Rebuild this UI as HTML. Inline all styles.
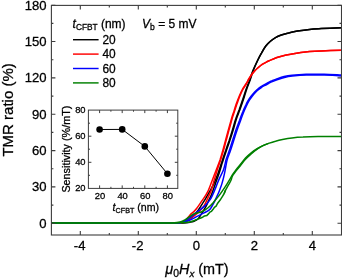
<!DOCTYPE html>
<html><head><meta charset="utf-8"><title>TMR ratio</title>
<style>
html,body{margin:0;padding:0;background:#fff;}
body{width:342px;height:278px;overflow:hidden;}
svg{display:block;will-change:transform;}
text{font-family:"Liberation Sans",sans-serif;fill:#000;stroke:#000;stroke-width:0.28px;}
.i{font-style:italic;}
</style></head><body>
<svg width="342" height="278" viewBox="0 0 342 278">
<rect width="342" height="278" fill="#fff"/>
<g fill="none" stroke-linejoin="round" stroke-linecap="butt">
<path d="M51.4 222.9C62.8 222.9 103.6 222.9 120.0 222.9C136.4 222.9 142.3 222.9 150.0 222.9C157.7 222.9 161.3 222.9 166.0 222.9C170.7 222.9 175.3 222.9 178.0 222.9C180.7 222.9 180.7 223.0 182.0 222.7C183.3 222.5 184.7 222.0 186.0 221.4C187.3 220.8 188.7 219.9 190.0 218.9C191.3 217.9 192.7 216.8 194.0 215.4C195.3 214.0 196.7 212.2 198.0 210.4C199.3 208.6 200.7 206.5 202.0 204.4C203.3 202.3 204.7 200.2 206.0 197.9C207.3 195.7 208.7 193.3 210.0 190.9C211.3 188.5 212.7 186.3 214.0 183.4C215.3 180.5 216.7 176.9 218.0 173.4C219.3 169.9 220.4 166.2 221.7 162.4C222.9 158.6 224.4 154.0 225.7 150.4C226.9 146.8 227.8 144.3 229.0 141.0C230.1 137.7 231.2 134.1 232.3 130.4C233.5 126.7 234.5 122.4 235.7 119.0C236.8 115.6 237.9 113.2 239.1 110.0C240.2 106.8 241.5 103.0 242.7 99.6C243.8 96.2 244.9 92.6 246.0 89.4C247.2 86.2 248.3 83.7 249.5 80.5C250.6 77.3 251.6 73.8 252.9 70.5C254.3 67.2 256.1 63.4 257.5 60.5C258.9 57.6 260.0 55.6 261.4 53.2C262.7 50.8 264.2 48.2 265.6 46.3C267.0 44.4 268.1 43.2 269.8 41.8C271.5 40.3 273.6 38.7 275.5 37.6C277.4 36.5 279.1 35.8 281.3 35.0C283.5 34.2 285.9 33.5 288.6 32.9C291.3 32.2 293.9 31.7 297.4 31.1C300.9 30.5 305.5 29.8 309.5 29.4C313.5 29.0 315.9 28.9 321.2 28.6C326.5 28.3 338.0 27.9 341.4 27.8" stroke="#000000" stroke-width="1.5"/>
<path d="M51.4 222.9C62.8 222.9 103.6 222.9 120.0 222.9C136.4 222.9 142.3 222.9 150.0 222.9C157.7 222.9 161.3 222.9 166.0 222.9C170.7 222.9 175.0 222.9 178.0 222.9C181.0 222.9 182.0 223.0 184.0 222.9C186.0 222.8 188.3 222.5 190.0 222.2C191.7 221.9 192.6 221.8 194.0 221.2C195.4 220.6 197.0 220.0 198.2 218.8C199.4 217.6 200.1 216.1 201.3 214.1C202.5 212.1 204.3 209.4 205.6 207.1C206.9 204.8 208.0 202.0 208.9 200.1C209.8 198.2 210.5 197.0 211.2 195.4C211.9 193.8 212.3 192.4 213.0 190.4C213.7 188.4 214.5 186.2 215.5 183.4C216.5 180.7 217.8 177.4 218.9 173.9C220.1 170.4 221.2 166.3 222.4 162.4C223.7 158.5 225.2 154.0 226.4 150.4C227.6 146.8 228.6 144.3 229.7 141.0C230.8 137.7 232.0 134.1 233.1 130.4C234.2 126.7 235.3 122.4 236.4 119.0C237.5 115.6 238.6 113.2 239.8 110.0C241.0 106.8 242.3 103.0 243.4 99.6C244.5 96.2 245.5 92.6 246.6 89.4C247.7 86.2 248.8 83.7 250.0 80.5C251.1 77.3 252.0 73.8 253.3 70.5C254.6 67.2 256.3 63.4 257.7 60.5C259.1 57.6 260.1 55.6 261.5 53.2C262.8 50.8 264.2 48.2 265.6 46.3C267.0 44.4 268.2 43.2 269.8 41.8C271.4 40.3 273.6 38.7 275.5 37.6C277.4 36.5 279.1 35.8 281.3 35.0C283.5 34.2 285.9 33.5 288.6 32.9C291.3 32.2 293.9 31.7 297.4 31.1C300.9 30.5 305.5 29.8 309.5 29.4C313.5 29.0 315.9 28.9 321.2 28.6C326.5 28.3 338.0 27.9 341.4 27.8" stroke="#000000" stroke-width="1.5"/>
<path d="M51.4 222.9C62.8 222.9 103.6 222.9 120.0 222.9C136.4 222.9 142.3 222.9 150.0 222.9C157.7 222.9 161.7 222.9 166.0 222.9C170.3 222.9 173.7 222.9 176.0 222.9C178.3 222.9 178.7 223.2 180.0 222.9C181.3 222.7 182.8 222.1 184.0 221.4C185.2 220.7 186.0 220.0 187.0 218.9C188.0 217.8 188.9 216.1 190.0 214.9C191.1 213.7 192.5 212.9 193.6 211.8C194.7 210.7 195.5 210.1 196.8 208.3C198.2 206.5 200.2 203.4 201.7 201.2C203.2 199.1 204.5 197.2 205.6 195.4C206.7 193.6 207.3 192.9 208.4 190.4C209.5 187.9 210.9 183.9 212.2 180.4C213.5 176.9 215.1 172.8 216.4 169.4C217.7 166.0 218.9 163.1 220.0 159.9C221.0 156.7 221.9 153.7 222.8 150.4C223.8 147.2 224.6 143.7 225.5 140.4C226.4 137.1 227.2 134.1 228.2 130.4C229.3 126.7 230.8 121.1 231.7 118.0C232.6 114.9 232.9 114.3 233.7 112.0C234.4 109.7 235.3 106.7 236.2 104.0C237.2 101.3 238.3 98.4 239.3 96.0C240.3 93.6 241.2 91.5 242.3 89.5C243.4 87.5 244.9 85.6 245.9 84.0C246.9 82.4 247.5 81.2 248.3 79.7C249.2 78.2 250.1 76.6 251.1 75.2C252.1 73.8 253.2 72.5 254.3 71.2C255.4 70.0 256.6 68.8 257.9 67.7C259.2 66.6 260.8 65.3 262.2 64.4C263.6 63.5 265.0 62.8 266.3 62.1C267.6 61.4 268.2 61.2 270.0 60.4C271.8 59.6 274.5 58.3 276.9 57.5C279.3 56.7 281.7 56.0 284.2 55.4C286.7 54.8 289.2 54.5 292.0 54.0C294.8 53.5 297.9 53.0 300.8 52.6C303.7 52.2 306.1 51.9 309.5 51.6C312.9 51.3 315.9 51.1 321.2 50.9C326.5 50.7 338.0 50.4 341.4 50.3" stroke="#ff0000" stroke-width="1.5"/>
<path d="M51.4 222.9C62.8 222.9 103.6 222.9 120.0 222.9C136.4 222.9 142.3 222.9 150.0 222.9C157.7 222.9 161.3 222.9 166.0 222.9C170.7 222.9 175.3 223.0 178.0 222.9C180.7 222.8 180.7 222.9 182.0 222.6C183.3 222.3 184.7 221.8 186.0 221.2C187.3 220.6 188.7 219.8 190.0 218.9C191.3 218.0 192.5 217.1 194.0 215.9C195.5 214.7 197.3 213.5 199.0 211.8C200.7 210.1 202.6 208.1 204.0 205.9C205.4 203.8 206.6 200.7 207.4 198.9C208.2 197.2 208.4 196.8 209.0 195.4C209.6 194.0 210.3 193.1 211.2 190.4C212.1 187.7 213.3 183.0 214.4 179.4C215.5 175.8 216.6 172.2 217.6 168.9C218.6 165.7 219.7 163.0 220.7 159.9C221.6 156.8 222.6 153.7 223.5 150.4C224.5 147.2 225.2 143.7 226.2 140.4C227.1 137.1 227.9 134.1 228.9 130.4C230.0 126.7 231.4 121.1 232.3 118.0C233.2 114.9 233.6 114.3 234.3 112.0C235.1 109.7 236.0 106.7 236.9 104.0C237.9 101.3 238.9 98.4 239.9 96.0C240.9 93.6 241.8 91.5 242.9 89.5C243.9 87.5 245.3 85.6 246.3 84.0C247.3 82.4 247.8 81.2 248.7 79.7C249.5 78.2 250.4 76.6 251.3 75.2C252.3 73.8 253.4 72.5 254.5 71.2C255.6 70.0 256.8 68.8 258.1 67.7C259.4 66.6 260.9 65.3 262.2 64.4C263.6 63.5 265.0 62.8 266.3 62.1C267.6 61.4 268.2 61.2 270.0 60.4C271.8 59.6 274.5 58.3 276.9 57.5C279.3 56.7 281.7 56.0 284.2 55.4C286.7 54.8 289.2 54.5 292.0 54.0C294.8 53.5 297.9 53.0 300.8 52.6C303.7 52.2 306.1 51.9 309.5 51.6C312.9 51.3 315.9 51.1 321.2 50.9C326.5 50.7 338.0 50.4 341.4 50.3" stroke="#ff0000" stroke-width="1.5"/>
<path d="M51.4 222.9C62.8 222.9 103.6 222.9 120.0 222.9C136.4 222.9 142.3 222.9 150.0 222.9C157.7 222.9 161.7 222.9 166.0 222.9C170.3 222.9 173.7 222.9 176.0 222.9C178.3 222.9 178.5 223.2 180.0 222.9C181.5 222.6 183.3 221.8 185.0 220.9C186.7 220.0 187.9 219.1 190.0 217.6C192.1 216.1 194.8 213.8 197.3 211.8C199.8 209.9 202.7 207.9 204.8 205.9C206.9 203.9 208.5 201.8 209.8 200.1C211.1 198.3 211.5 197.3 212.4 195.4C213.3 193.5 214.3 191.1 215.4 188.4C216.5 185.7 217.6 182.6 219.0 179.4C220.4 176.2 222.4 172.8 223.6 169.4C224.8 166.1 225.3 162.5 226.2 159.3C227.2 156.1 228.3 153.6 229.4 150.3C230.5 147.0 231.7 143.2 232.8 139.7C234.0 136.2 235.1 132.5 236.2 129.2C237.4 126.0 238.5 123.1 239.6 120.2C240.6 117.3 241.6 114.5 242.7 112.0C243.7 109.5 244.7 107.1 245.8 105.0C246.8 102.9 247.8 101.1 248.8 99.5C249.8 97.9 250.9 96.5 251.9 95.2C252.9 93.9 253.9 92.8 254.9 91.7C255.9 90.7 256.9 89.7 258.0 88.9C259.0 88.1 260.0 87.4 261.0 86.7C262.0 86.0 262.8 85.6 264.0 84.9C265.2 84.2 266.7 83.4 268.0 82.7C269.4 82.0 270.7 81.3 272.1 80.7C273.4 80.1 274.1 79.9 276.1 79.2C278.1 78.5 281.4 77.2 284.1 76.6C286.8 76.0 288.5 75.7 292.1 75.3C295.8 74.9 300.8 74.5 306.1 74.3C311.5 74.1 318.3 74.2 324.1 74.3C330.0 74.4 338.6 75.0 341.5 75.1" stroke="#0000ff" stroke-width="1.5"/>
<path d="M51.4 222.9C62.8 222.9 103.6 222.9 120.0 222.9C136.4 222.9 142.3 222.9 150.0 222.9C157.7 222.9 161.3 222.9 166.0 222.9C170.7 222.9 175.0 223.1 178.0 222.9C181.0 222.7 182.0 222.4 184.0 221.9C186.0 221.4 187.8 220.9 190.0 220.0C192.2 219.1 194.7 217.6 197.0 216.4C199.3 215.2 201.8 214.1 204.0 212.9C206.2 211.7 208.3 211.0 209.9 209.4C211.5 207.8 212.3 205.5 213.4 203.6C214.5 201.7 215.3 199.9 216.3 197.7C217.3 195.5 218.6 192.8 219.5 190.4C220.4 188.0 221.2 186.1 222.0 183.4C222.8 180.7 223.5 178.3 224.3 174.4C225.2 170.5 226.1 163.9 227.1 160.1C228.1 156.2 229.2 154.3 230.3 151.1C231.4 147.8 232.6 144.0 233.7 140.5C234.8 136.9 236.0 133.2 237.1 130.0C238.2 126.7 239.3 123.8 240.4 121.0C241.4 118.1 242.4 115.3 243.4 112.8C244.4 110.2 245.4 107.8 246.4 105.8C247.4 103.7 248.4 101.9 249.4 100.2C250.4 98.6 251.4 97.2 252.4 96.0C253.4 94.7 254.4 93.5 255.4 92.5C256.4 91.4 257.4 90.5 258.4 89.7C259.4 88.8 260.4 88.1 261.4 87.5C262.4 86.8 263.2 86.3 264.4 85.7C265.6 85.0 267.1 84.2 268.4 83.5C269.7 82.8 271.1 82.0 272.4 81.5C273.7 80.9 274.4 80.6 276.4 80.0C278.4 79.3 281.7 78.0 284.4 77.4C287.1 76.7 288.7 76.4 292.4 76.1C296.1 75.7 301.1 75.2 306.4 75.1C311.7 74.9 318.5 74.9 324.4 75.1C330.3 75.2 338.9 75.7 341.8 75.9" stroke="#0000ff" stroke-width="1.5"/>
<path d="M51.4 222.9C62.8 222.9 103.6 222.9 120.0 222.9C136.4 222.9 142.3 222.9 150.0 222.9C157.7 222.9 162.3 222.9 166.0 222.9C169.7 222.9 169.7 223.1 172.0 222.9C174.3 222.7 177.8 222.4 180.0 221.9C182.2 221.4 183.3 220.8 185.0 219.9C186.7 219.0 188.4 217.5 190.0 216.4C191.6 215.3 192.8 214.3 194.7 213.5C196.6 212.7 199.6 212.7 201.7 211.8C203.8 210.9 205.6 209.9 207.5 208.3C209.4 206.7 211.5 204.6 213.4 202.4C215.3 200.2 217.3 197.9 219.2 195.4C221.1 192.9 223.2 189.8 224.8 187.4C226.4 185.0 227.7 182.8 229.0 180.7C230.3 178.6 231.2 176.6 232.5 174.7C233.8 172.8 235.2 171.0 236.5 169.2C237.8 167.5 239.0 166.1 240.5 164.2C242.0 162.4 243.7 160.0 245.5 158.1C247.3 156.2 249.5 154.2 251.5 152.6C253.5 151.0 255.5 149.7 257.5 148.5C259.5 147.3 261.7 146.2 263.5 145.4C265.3 144.6 266.5 144.1 268.5 143.4C270.5 142.7 273.2 141.8 275.5 141.2C277.8 140.5 279.8 140.0 282.5 139.5C285.2 139.0 288.6 138.4 292.0 138.0C295.4 137.6 298.7 137.3 303.0 137.1C307.3 136.8 311.6 136.6 318.0 136.5C324.4 136.4 337.5 136.4 341.4 136.4" stroke="#008000" stroke-width="1.5"/>
<path d="M51.4 222.9C62.8 222.9 103.6 222.9 120.0 222.9C136.4 222.9 142.3 222.9 150.0 222.9C157.7 222.9 161.3 222.9 166.0 222.9C170.7 222.9 175.0 223.0 178.0 222.9C181.0 222.8 182.0 222.8 184.0 222.6C186.0 222.4 188.3 222.2 190.0 221.9C191.7 221.6 192.8 221.0 194.0 220.6C195.2 220.2 196.0 219.8 197.0 219.4C198.0 219.0 199.0 218.7 200.0 218.3C201.0 217.9 202.4 217.2 202.9 217.0" stroke="#008000" stroke-width="1.5"/>
<path d="M202.9 217.0L204.6 215.9L206.9 215.4L208.7 213.6L209.8 212.2L211.5 211.3L213.3 209.0L214.4 207.3L216.1 206.1L217.3 203.8L219.0 201.5L220.7 199.2L222.5 196.3L224.2 193.5L225.6 190.0" stroke="#008000" stroke-width="1.5"/>
<path d="M224.2 193.5C224.4 192.9 224.9 191.4 225.6 190.0C226.3 188.6 227.4 186.8 228.3 185.2C229.2 183.6 230.3 181.9 231.0 180.3C231.7 178.8 231.6 177.6 232.5 175.9C233.4 174.2 235.2 172.2 236.5 170.4C237.8 168.7 239.0 167.2 240.5 165.4C242.0 163.6 243.7 161.3 245.5 159.3C247.3 157.3 249.5 155.4 251.5 153.6C253.5 151.9 255.5 150.3 257.5 148.9C259.5 147.6 261.7 146.3 263.5 145.4C265.3 144.5 267.7 143.7 268.5 143.4" stroke="#008000" stroke-width="1.5"/>
</g>
<g stroke="#3c3c3c" stroke-width="1.1" fill="none">
<rect x="51.4" y="5.4" width="290.1" height="229.6"/>
<path d="M51.4 223.3h4.0M341.5 223.3h-4.0M51.4 205.1h2.0M341.5 205.1h-2.0M51.4 186.9h4.0M341.5 186.9h-4.0M51.4 168.8h2.0M341.5 168.8h-2.0M51.4 150.6h4.0M341.5 150.6h-4.0M51.4 132.4h2.0M341.5 132.4h-2.0M51.4 114.2h4.0M341.5 114.2h-4.0M51.4 96.1h2.0M341.5 96.1h-2.0M51.4 77.9h4.0M341.5 77.9h-4.0M51.4 59.7h2.0M341.5 59.7h-2.0M51.4 41.5h4.0M341.5 41.5h-4.0M51.4 23.4h2.0M341.5 23.4h-2.0M51.4 5.2h4.0M341.5 5.2h-4.0M80.3 235.0v-4.0M80.3 5.4v4.0M109.3 235.0v-2.0M109.3 5.4v2.0M138.3 235.0v-4.0M138.3 5.4v4.0M167.3 235.0v-2.0M167.3 5.4v2.0M196.3 235.0v-4.0M196.3 5.4v4.0M225.3 235.0v-2.0M225.3 5.4v2.0M254.3 235.0v-4.0M254.3 5.4v4.0M283.3 235.0v-2.0M283.3 5.4v2.0M312.3 235.0v-4.0M312.3 5.4v4.0"/>
</g>
<g font-size="13.1" text-anchor="end">
<text x="46.5" y="227.6">0</text>
<text x="46.5" y="191.2">30</text>
<text x="46.5" y="154.9">60</text>
<text x="46.5" y="118.5">90</text>
<text x="46.5" y="82.2">120</text>
<text x="46.5" y="45.8">150</text>
<text x="46.5" y="9.5">180</text>
</g>
<g font-size="13.1" text-anchor="middle">
<text x="79.7" y="250.2">-4</text>
<text x="137.7" y="250.2">-2</text>
<text x="196.3" y="250.2">0</text>
<text x="254.3" y="250.2">2</text>
<text x="312.3" y="250.2">4</text>
</g>
<text transform="translate(12.6 156.6) rotate(-90)" font-size="15">TMR ratio (%)</text>
<text x="165.3" y="274" font-size="14.4"><tspan class="i">μ</tspan><tspan font-size="10.4" dy="2.6">0</tspan><tspan class="i" dy="-2.6">H</tspan><tspan class="i" font-size="9.8" dy="2.6">x</tspan><tspan dy="-2.6"> (mT)</tspan></text>
<text x="72.6" y="27.6" font-size="12"><tspan class="i">t</tspan><tspan font-size="8.3" dy="2.7">CFBT</tspan><tspan dy="-2.7"> (nm)</tspan></text>
<text x="142" y="27.6" font-size="12"><tspan class="i">V</tspan><tspan font-size="8.6" dy="2.7">b</tspan><tspan dy="-2.7"> = 5 mV</tspan></text>
<path d="M73 39.7H98.6" stroke="#000" stroke-width="1.45" fill="none"/>
<text x="102.4" y="43.8" font-size="11.9">20</text>
<path d="M73 54.1H98.6" stroke="#f00" stroke-width="1.45" fill="none"/>
<text x="102.4" y="58.2" font-size="11.9">40</text>
<path d="M73 68.5H98.6" stroke="#00f" stroke-width="1.45" fill="none"/>
<text x="102.4" y="72.6" font-size="11.9">60</text>
<path d="M73 82.9H98.6" stroke="#008000" stroke-width="1.45" fill="none"/>
<text x="102.4" y="87.0" font-size="11.9">80</text>
<rect x="60.4" y="103.1" width="119.4" height="110.3" fill="#fff" stroke="none"/>
<g stroke="#3c3c3c" stroke-width="1" fill="none">
<rect x="88.4" y="110.1" width="89.4" height="78.3"/>
<path d="M99.6 188.4v-3.0M99.6 110.1v3.0M110.9 188.4v-1.6M110.9 110.1v1.6M122.2 188.4v-3.0M122.2 110.1v3.0M133.5 188.4v-1.6M133.5 110.1v1.6M144.8 188.4v-3.0M144.8 110.1v3.0M156.1 188.4v-1.6M156.1 110.1v1.6M167.4 188.4v-3.0M167.4 110.1v3.0M88.4 175.3h1.6M177.8 175.3h-1.6M88.4 162.3h3.0M177.8 162.3h-3.0M88.4 149.2h1.6M177.8 149.2h-1.6M88.4 136.2h3.0M177.8 136.2h-3.0M88.4 123.2h1.6M177.8 123.2h-1.6"/>
</g>
<path d="M99.6 129.5L122.2 129.4L144.8 146.4L167.4 173.7" stroke="#000" stroke-width="1" fill="none"/>
<circle cx="99.6" cy="129.5" r="3.3" fill="#000"/>
<circle cx="122.2" cy="129.4" r="3.3" fill="#000"/>
<circle cx="144.8" cy="146.4" r="3.3" fill="#000"/>
<circle cx="167.4" cy="173.7" r="3.3" fill="#000"/>
<g font-size="9.4" text-anchor="end">
<text x="85.6" y="191.2">20</text>
<text x="85.6" y="165.1">40</text>
<text x="85.6" y="139.0">60</text>
<text x="85.6" y="112.9">80</text>
</g>
<g font-size="9.4" text-anchor="middle">
<text x="100.0" y="198.5">20</text>
<text x="122.6" y="198.5">40</text>
<text x="145.2" y="198.5">60</text>
<text x="167.8" y="198.5">80</text>
</g>
<text transform="translate(70.4 192.6) rotate(-90)" font-size="10.8">Sensitivity (%/mT)</text>
<text x="112.6" y="210.6" font-size="10.6"><tspan class="i">t</tspan><tspan font-size="7.2" dy="2.3">CFBT</tspan><tspan dy="-2.3"> (nm)</tspan></text>
</svg>
</body></html>
